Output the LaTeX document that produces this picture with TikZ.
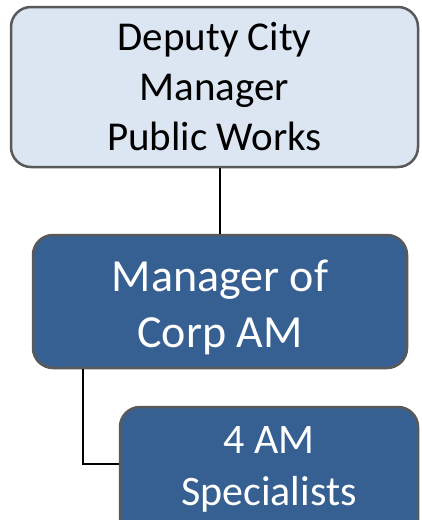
\documentclass[tikz,border=0pt]{standalone}
\usepackage{fontspec}
\setmainfont{Carlito}
\usetikzlibrary{positioning}
\definecolor{paleblue}{HTML}{DCE6F2}
\definecolor{deepblue}{HTML}{366092}
\definecolor{rimgray}{HTML}{595959}
\begin{document}
\begin{tikzpicture}[
    x=1pt, y=-1pt,
    box/.style={
		rectangle,
		rounded corners=20pt,
		draw=rimgray,
		line width=2.5pt,
		align=center,
		inner sep=0pt
	},
	lightbox/.style={
		box,
		fill=paleblue,
		text=black,
		font={\fontsize{41}{50}\selectfont}
	},
	darkbox/.style={
		box,
		fill=deepblue
	},
	boxtext/.style={
		align=center,
		inner sep=0pt,
		text=white
	},
	link/.style={
		draw=black,
		line width=2pt
	}
  ]
  \useasboundingbox (0,0) rectangle (421,520);
  \clip (0,0) rectangle (421,520);

  % the three boxes
  \node [lightbox, minimum width=407pt, minimum height=160pt] (deputy) at (214.5,87)
  {Deputy City\\Manager\\Public Works};

  \node [darkbox, minimum width=374pt, minimum height=133pt] (corpam) at (220,301.5) {};
  \node [boxtext, font={\fontsize{46}{56}\selectfont}] (corpamtext)
    at ([yshift=-5.5pt]corpam.center) {Manager of\\Corp AM};

  \node [darkbox, minimum width=298pt, minimum height=140pt] (specs) at (269,477) {};
  \node [boxtext, font={\fontsize{42}{52}\selectfont}] (specstext)
    at ([yshift=7.5pt]specs.center) {4 AM\\Specialists};

  \draw [link] (deputy.south -| corpam.north) -- (corpam.north);
  \draw [link] ([xshift=51pt]corpam.south west) |- ([yshift=13pt]specs.west);

\end{tikzpicture}
\end{document}
